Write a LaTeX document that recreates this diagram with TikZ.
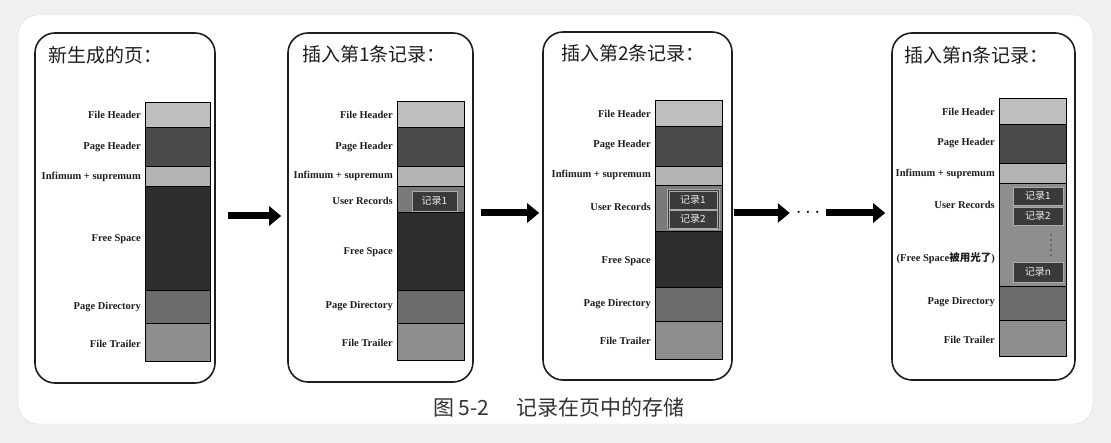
\documentclass[tikz,border=0pt]{standalone}
\usepackage{fontspec}
\setmainfont{Liberation Serif}
\newfontfamily\cjk{Noto Sans CJK SC}
\usetikzlibrary{arrows.meta}

\definecolor{fhgray}{HTML}{BEBEBE}
\definecolor{phgray}{HTML}{4A4A4A}
\definecolor{infgray}{HTML}{B4B4B4}
\definecolor{fsgray}{HTML}{2E2E2E}
\definecolor{pdgray}{HTML}{6C6C6C}
\definecolor{ftgray}{HTML}{8E8E8E}
\definecolor{urgray}{HTML}{7A7A7A}
\definecolor{recgray}{HTML}{3A3A3A}
\definecolor{inkgray}{HTML}{1E1E1E}

\tikzset{
  panel/.style={draw=inkgray, line width=1.6pt, rounded corners=20pt, fill=white, inner sep=0pt},
  seg/.style={draw=black, line width=1pt},
  lbl/.style={anchor=east, inner sep=0pt, text=inkgray, font=\bfseries\fontsize{10.5}{12}\selectfont},
  ttl/.style={anchor=west, inner sep=0pt, text=inkgray, font=\cjk\fontsize{19}{21}\selectfont},
  rec/.style={draw=gray!65, fill=recgray, line width=0.8pt, inner sep=0pt, text=gray!15,
    minimum width=48pt, minimum height=18pt, font=\cjk\fontsize{10}{11}\selectfont},
  bigarrow/.style={line width=7pt, draw=black, -{Triangle[length=12pt,width=19pt]}}
}

\begin{document}
\begin{tikzpicture}[x=1pt,y=-1pt]
\useasboundingbox (0,0) rectangle (1111,443);
\fill[gray!12] (0,0) rectangle (1111,443);
\draw[gray!30, fill=white, rounded corners=20pt] (18,15) rectangle (1093,424);

% the four pages
\node[panel, minimum width=180pt, minimum height=350pt] (p1) at (125,208) {};
\node[panel, minimum width=185pt, minimum height=349pt] (p2) at (380.5,207.5) {};
\node[panel, minimum width=189pt, minimum height=348pt] (p3) at (637.5,206) {};
\node[panel, minimum width=183pt, minimum height=347pt] (p4) at (983.5,206.5) {};

\node[ttl] (t1) at (48,55) {新生成的页：};
\node[ttl] (t2) at (302,54) {插入第1条记录：};
\node[ttl] (t3) at (561,53) {插入第2条记录：};
\node[ttl] (t4) at (904,55) {插入第n条记录：};

% page 1
\draw[seg, fill=fhgray] (145,103) rectangle (210,128);
\draw[seg, fill=phgray] (145,128) rectangle (210,167);
\draw[seg, fill=infgray] (145,167) rectangle (210,187);
\draw[seg, fill=fsgray] (145,187) rectangle (210,291);
\draw[seg, fill=pdgray] (145,291) rectangle (210,324);
\draw[seg, fill=ftgray] (145,324) rectangle (210,362);
\node[lbl] (fh1) at (141,115) {File Header};
\node[lbl] (ph1) at (141,147) {Page Header};
\node[lbl] (in1) at (141,177) {Infimum + supremum};
\node[lbl] (fs1) at (141,239) {Free Space};
\node[lbl] (pd1) at (141,307) {Page Directory};
\node[lbl] (ft1) at (141,344) {File Trailer};

% page 2
\draw[seg, fill=fhgray] (397,102) rectangle (464,128);
\draw[seg, fill=phgray] (397,128) rectangle (464,167);
\draw[seg, fill=infgray] (397,167) rectangle (464,187);
\draw[seg, fill=urgray] (397,187) rectangle (464,213);
\draw[seg, fill=fsgray] (397,213) rectangle (464,291);
\draw[seg, fill=pdgray] (397,291) rectangle (464,324);
\draw[seg, fill=ftgray] (397,324) rectangle (464,361);
\node[rec, minimum width=45pt, minimum height=20pt] (r21) at (434.5,201) {记录1};
\node[lbl] (fh2) at (393,115) {File Header};
\node[lbl] (ph2) at (393,147) {Page Header};
\node[lbl] (in2) at (393,176) {Infimum + supremum};
\node[lbl] (ur2) at (393,201) {User Records};
\node[lbl] (fs2) at (393,252) {Free Space};
\node[lbl] (pd2) at (393,306) {Page Directory};
\node[lbl] (ft2) at (393,343) {File Trailer};

% page 3
\draw[seg, fill=fhgray] (655,101) rectangle (722,127);
\draw[seg, fill=phgray] (655,127) rectangle (722,167);
\draw[seg, fill=infgray] (655,167) rectangle (722,186);
\draw[seg, fill=urgray] (655,186) rectangle (722,232);
\draw[seg, fill=fsgray] (655,232) rectangle (722,288);
\draw[seg, fill=pdgray] (655,288) rectangle (722,322);
\draw[seg, fill=ftgray] (655,322) rectangle (722,360);
\draw[draw=gray!65, fill=recgray, line width=0.8pt] (667,189) rectangle (719,229);
\node[rec] (r31) at (693,200) {记录1};
\node[rec] (r32) at (693,219) {记录2};
\node[lbl] (fh3) at (651,114) {File Header};
\node[lbl] (ph3) at (651,145) {Page Header};
\node[lbl] (in3) at (651,175) {Infimum + supremum};
\node[lbl] (ur3) at (651,207) {User Records};
\node[lbl] (fs3) at (651,261) {Free Space};
\node[lbl] (pd3) at (651,304) {Page Directory};
\node[lbl] (ft3) at (651,341) {File Trailer};

% page n
\draw[seg, fill=fhgray] (999,99) rectangle (1066,125);
\draw[seg, fill=phgray] (999,125) rectangle (1066,164);
\draw[seg, fill=infgray] (999,164) rectangle (1066,184);
\draw[seg, fill=urgray!85!white] (999,184) rectangle (1066,287);
\draw[seg, fill=pdgray] (999,287) rectangle (1066,321);
\draw[seg, fill=ftgray] (999,321) rectangle (1066,357);
\node[rec, minimum width=50pt] (r41) at (1038,196) {记录1};
\node[rec, minimum width=50pt] (r42) at (1038,216) {记录2};
\node[rec, minimum width=50pt, minimum height=20pt] (r4n) at (1038,272) {记录n};
\foreach \y in {235,240,...,255}
  \fill[black!75] (1051,\y) circle (0.9pt);
\node[lbl] (fh4) at (995,112) {File Header};
\node[lbl] (ph4) at (995,143) {Page Header};
\node[lbl] (in4) at (995,174) {Infimum + supremum};
\node[lbl] (ur4) at (995,205) {User Records};
\node[lbl] (fs4) at (995,258) {(Free Space{\cjk 被用光了})};
\node[lbl] (pd4) at (995,302) {Page Directory};
\node[lbl] (ft4) at (995,340) {File Trailer};

% arrows between pages
\node[minimum width=36pt, inner sep=0pt, font=\bfseries\fontsize{20}{20}\selectfont] (dots) at (808,213) {$\cdots$};
\draw[bigarrow, shorten <=12pt, shorten >=6pt] ([yshift=-8pt]p1.east) -- ([yshift=-8.5pt]p2.west);
\draw[bigarrow, shorten <=7pt, shorten >=3pt] ([yshift=-5.5pt]p2.east) -- ([yshift=-7pt]p3.west);
\draw[bigarrow, shorten <=1pt] ([yshift=-7pt]p3.east) -- (dots.west);
\draw[bigarrow, shorten >=6pt] (dots.east) -- ([yshift=-6.5pt]p4.west);

\node[text=black!80, font=\cjk\fontsize{21}{23}\selectfont] (cap) at (559,408) {图 5-2\hspace{1.3em}记录在页中的存储};
\end{tikzpicture}
\end{document}
